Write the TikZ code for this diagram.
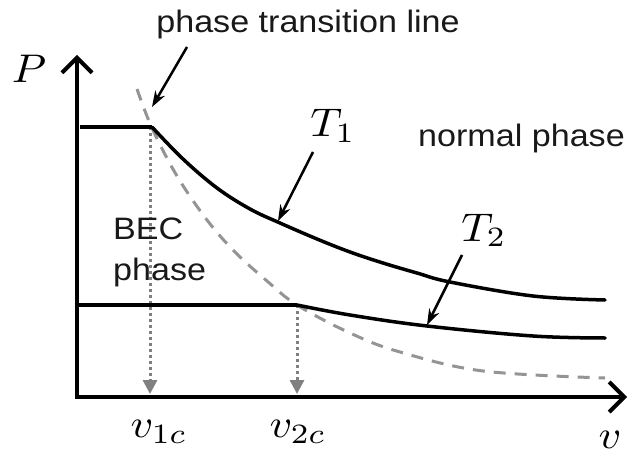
\documentclass[tikz,border=0pt]{standalone}
\usepackage{fontspec}
\setmainfont{Liberation Sans}
\usetikzlibrary{arrows.meta}
\newcommand{\hstr}[1]{\scalebox{1.1}[1]{#1}}
\newcommand{\mbig}[1]{\scalebox{4.4}[4]{#1}}
\begin{document}
\begin{tikzpicture}[x=1pt,y=-1pt,
  txt/.style={inner sep=0pt, font=\fontsize{31}{38}\selectfont, text=black!90},
  mth/.style={inner sep=0pt, font=\normalsize},
  axis/.style={line width=4pt, line join=miter,
    {Straight Barb[length=15pt,width=30pt,line width=4pt]}-{Straight Barb[length=15pt,width=30pt,line width=4pt]}},
  curve/.style={line width=3.5pt, line cap=round},
  plateau/.style={line width=4.5pt},
  pline/.style={black!42, line width=3pt, dash pattern=on 12pt off 9pt},
  dropline/.style={black!50, line width=3pt, dash pattern=on 3pt off 3pt,
    -{Triangle[length=14pt,width=14pt]}},
  callout/.style={line width=2.5pt, -{Stealth[length=16pt,width=11pt]}}]
\useasboundingbox (0,0) rectangle (629,457);
% coordinates
\coordinate (O) at (77,397);
\coordinate (ytop) at (77,55);
\coordinate (xend) at (627,397);
\coordinate (k1) at (152,127);
\coordinate (k2) at (297,305);
\coordinate (p1s) at (80,127);
\coordinate (p2s) at (79,305);
\coordinate (d1) at (150,394);
\coordinate (d2) at (297,394);
\coordinate (c1) at (150,127);
% phase transition line (dashed)
\draw[pline] plot[smooth, tension=0.6] coordinates {(137,89) (152,128) (177,176) (207,220) (235,252) (267,281) (297,305) (350,333) (400,352) (483,371) (605,378)};
% drop lines
\draw[dropline] (c1) -- (d1);
\draw[dropline] (k2) -- (d2);
% isotherms
\draw[plateau] (p1s) -- (k1);
\draw[curve] plot[smooth, tension=0.6] coordinates {(152,127) (183,159) (217,188) (250,209) (280,223) (317,239) (350,252) (383,263) (417,273) (450,282) (533,296) (605,300)};
\draw[plateau] (p2s) -- (k2);
\draw[curve] plot[smooth, tension=0.6] coordinates {(297,305) (350,315) (427,326) (533,336) (605,338)};
% axes
\draw[axis] (ytop) -- (O) -- (xend);
% labels
\node[txt, anchor=base] (ptl) at (308,33) {\hstr{phase transition line}};
\node[txt, anchor=base west] (np) at (418,147) {\hstr{normal phase}};
\node[txt, anchor=base west] (bec) at (113,240) {\hstr{BEC}};
\node[txt, anchor=base west] (becp) at (113,280) {\hstr{phase}};
\node[mth, anchor=base] (P) at (29,83) {\mbig{$P$}};
\node[mth, anchor=base] (T1) at (333,137) {\mbig{$T_1$}};
\node[mth, anchor=base] (T2) at (484,241) {\mbig{$T_2$}};
\node[mth, anchor=base] (v1) at (159,437) {\mbig{$v_{1c}$}};
\node[mth, anchor=base] (v2) at (298,437) {\mbig{$v_{2c}$}};
\node[mth, anchor=base] (v) at (610,448) {\mbig{$v$}};
% callouts
\coordinate (a1s) at (187,47);
\coordinate (a1e) at (152,107);
\coordinate (a2s) at (313,152);
\coordinate (a2e) at (278,221);
\coordinate (a3s) at (462,255);
\coordinate (a3e) at (427,325);
\draw[callout] (a1s) -- (a1e);
\draw[callout] (a2s) -- (a2e);
\draw[callout] (a3s) -- (a3e);
\end{tikzpicture}
\end{document}
